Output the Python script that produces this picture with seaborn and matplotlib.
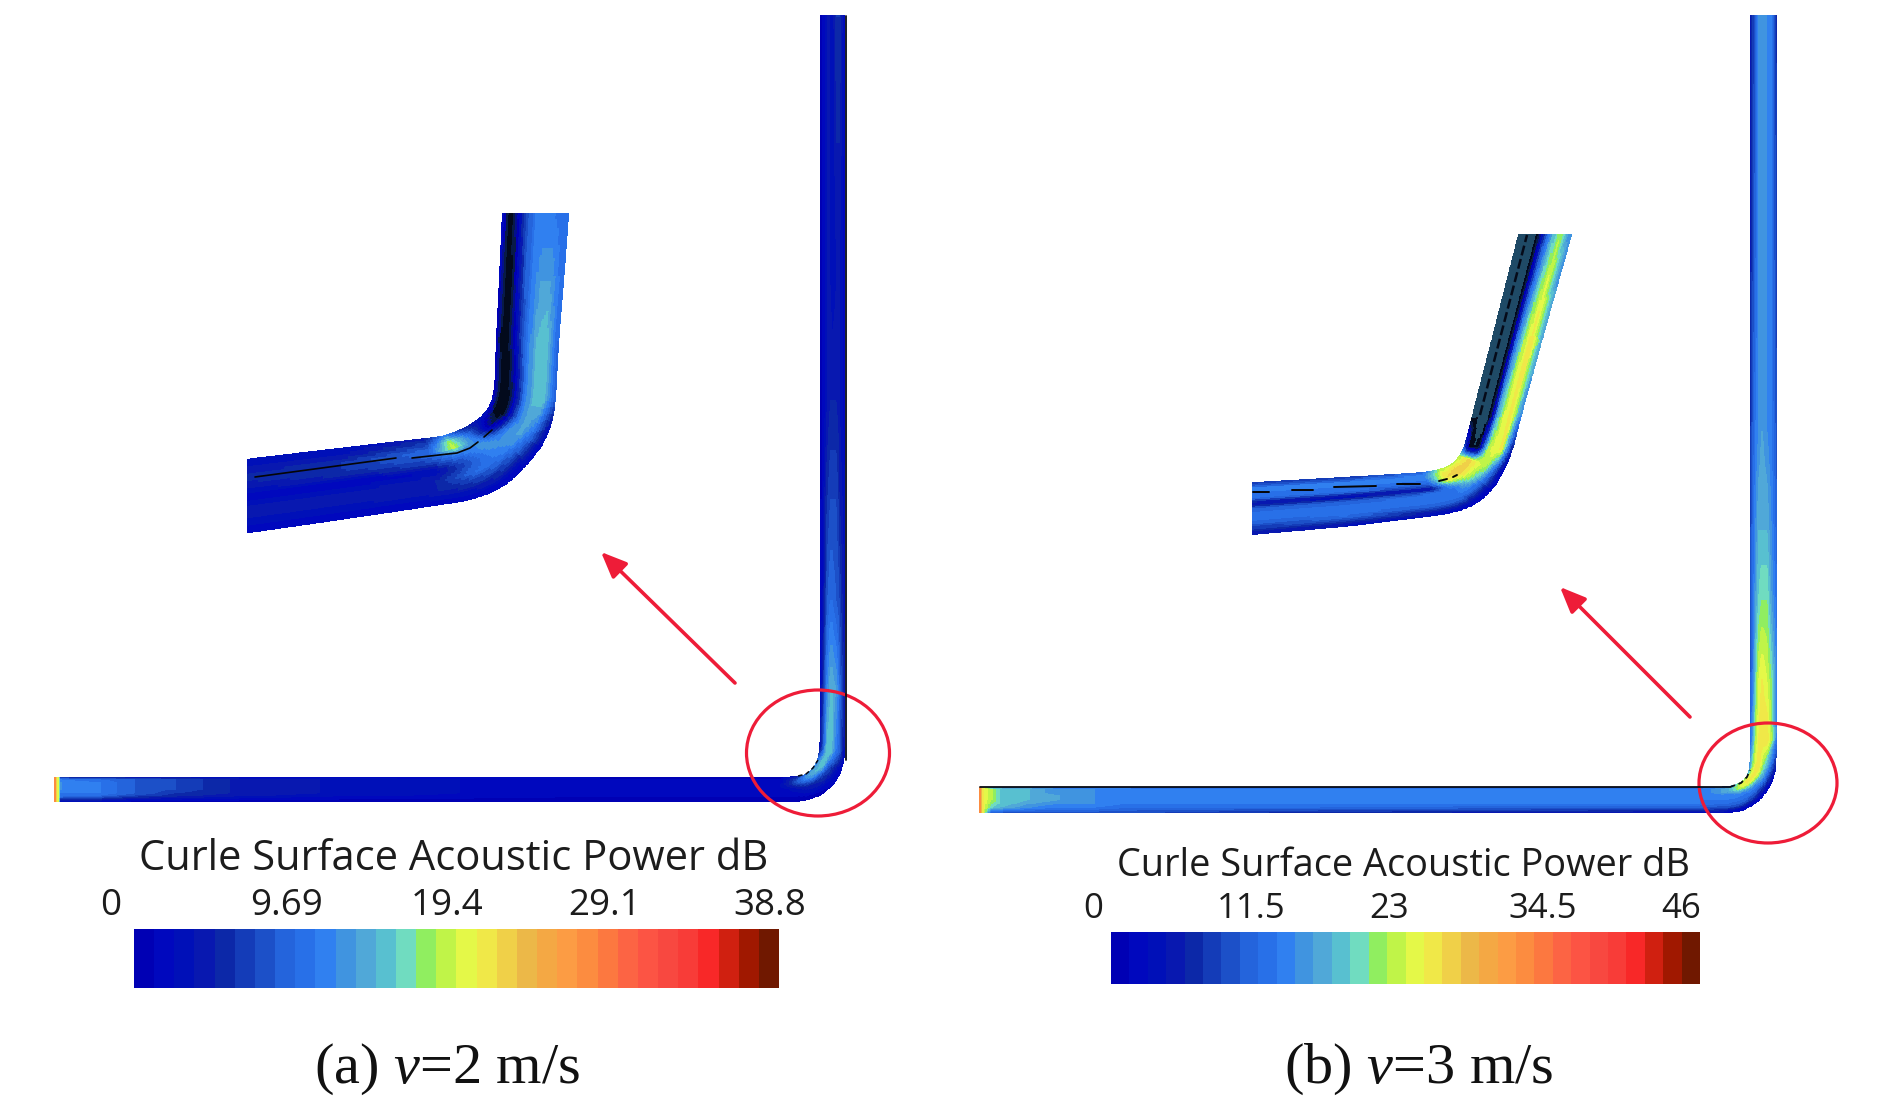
import numpy as np
import matplotlib
matplotlib.use("Agg")
import matplotlib.pyplot as plt
from matplotlib.colors import ListedColormap
from matplotlib.patches import Ellipse
import seaborn as sns

# contour level colours, as in the colour bars
level_colors = ["#0000b4", "#0008be", "#0010b8", "#0818b0", "#0c28a8", "#143cb8", "#1c50c8", "#2464dc",
                "#2870e8", "#3080f0", "#4094e0", "#50a8d8", "#58c0d0", "#70dcc0", "#90ee60", "#c0f448",
                "#e4f848", "#f0e848", "#f0d048", "#ecb848", "#f4a844", "#fc9c44", "#fc8c40", "#fc7840",
                "#fc6444", "#fc5444", "#f84840", "#f83c38", "#f82828", "#d02010", "#a01800", "#701800"]
# the dark streaks in the zoomed pipes: slate, black, navy, dark blue
dark_colors = ["#1f4a66", "#030a1c", "#081a48", "#04108a"]

bar_a_ticks = ["0", "9.69", "19.4", "29.1", "38.8"]
bar_b_ticks = ["0", "11.5", "23", "34.5", "46"]

# share of the wall width, inner wall -> outer wall
across = [0, 0.1, 0.2, 0.3, 0.4, 0.5, 0.65, 0.8, 1]

# main pipe a: inner wall x, y, outer wall x, y, level across the wall
main_a_in_x = [55, 57, 59, 61, 100, 135, 175, 230, 320, 600, 780, 797, 806, 813, 818, 820, 820, 820, 820, 820, 820, 820]
main_a_in_y = [777, 777, 777, 777, 777, 777, 777, 777, 777, 777, 777, 777, 775, 769, 760, 748, 690, 600, 500, 400, 270, 16]
main_a_out_x = [55, 57, 59, 61, 100, 135, 175, 230, 320, 600, 780, 797, 815, 830, 841, 845, 845, 845, 845, 845, 845, 845]
main_a_out_y = [802, 802, 802, 802, 802, 802, 802, 802, 802, 802, 802, 802, 798, 789, 773, 755, 690, 600, 500, 400, 270, 16]
main_a_levels = [
    [22, 22, 22, 22, 22, 22, 22, 22, 22],
    [17, 17, 17, 17, 17, 17, 17, 17, 17],
    [15, 15, 15, 15, 15, 15, 15, 15, 15],
    [3, 9, 10, 10, 10, 10, 9, 8, 1],
    [3, 8, 9, 9, 9, 9, 9, 7, 1],
    [2, 7, 7, 7, 7, 7, 7, 5, 0],
    [2, 6, 6, 6, 6, 6, 5, 4, 0],
    [1, 4, 4, 4, 4, 4, 4, 3, 0],
    [1, 3, 3, 3, 3, 3, 3, 2, 0],
    [1, 1, 1, 1, 1, 1, 1, 1, 0],
    [0, 1, 1, 2, 2, 1, 1, 1, 0],
    [4, 6, 7, 6, 4, 3, 2, 1, 0],
    [9, 11, 10, 8, 6, 4, 3, 2, 0],
    [11, 12, 12, 10, 7, 5, 4, 2, 1],
    [8, 11, 13, 13, 10, 7, 5, 3, 1],
    [3, 6, 10, 13, 13, 12, 9, 7, 2],
    [1, 4, 8, 10, 12, 12, 11, 8, 3],
    [1, 2, 5, 7, 8, 8, 7, 6, 2],
    [1, 1, 4, 5, 6, 6, 6, 4, 2],
    [0, 1, 2, 3, 4, 4, 4, 3, 1],
    [0, 1, 2, 3, 3, 2, 3, 3, 1],
    [0, 1, 2, 3, 3, 2, 5, 5, 1],
]

# zoomed pipe a
zoom_a_in_x = [248, 340, 427, 445, 462, 478, 490, 495, 497, 500, 503]
zoom_a_in_y = [460, 449, 439, 437, 430, 422, 410, 397, 340, 280, 214]
zoom_a_out_x = [248, 345, 440, 490, 523, 543, 552, 555, 558, 563, 568]
zoom_a_out_y = [532, 518, 504, 496, 470, 443, 427, 400, 340, 280, 214]
zoom_a_levels = [
    [2, 3, 4, 4, 3, 1, 3, 3, 1],
    [2, 3, 5, 5, 4, 1, 3, 3, 1],
    [4, 6, 8, 7, 5, 2, 4, 4, 1],
    [10, 15, 16, 10, 7, 6, 8, 5, 1],
    [5, 8, 9, 10, 11, 10, 9, 6, 1],
    [3, 1, -1, 3, 8, 11, 11, 8, 2],
    [2, -2, -3, -1, 5, 9, 12, 10, 3],
    [1, -3, -3, -1, 4, 9, 12, 13, 7],
    [0, -3, -2, 1, 6, 9, 12, 13, 8],
    [1, -3, -2, 3, 7, 9, 11, 11, 8],
    [2, -3, -1, 4, 7, 9, 9, 9, 8],
]
zoom_a_dash1_x = [255, 396]
zoom_a_dash1_y = [477, 458]
zoom_a_dash2_x = [412, 457, 470, 478]
zoom_a_dash2_y = [458, 453, 448, 442]
zoom_a_dash3_x = [484, 492]
zoom_a_dash3_y = [437, 430]

# main pipe b
main_b_in_x = [980, 983, 992, 1000, 1030, 1060, 1095, 1130, 1300, 1700, 1730, 1741, 1747, 1750, 1750, 1750, 1750, 1750, 1750, 1750, 1750]
main_b_in_y = [787, 787, 787, 787, 787, 787, 787, 787, 787, 787, 787, 783, 777, 768, 740, 680, 600, 530, 430, 300, 16]
main_b_out_x = [980, 983, 992, 1000, 1030, 1060, 1095, 1130, 1300, 1700, 1732, 1750, 1765, 1775, 1777, 1777, 1777, 1777, 1777, 1777, 1777]
main_b_out_y = [813, 813, 813, 813, 813, 813, 813, 813, 813, 813, 813, 808, 795, 776, 740, 680, 600, 530, 430, 300, 16]
main_b_levels = [
    [22, 22, 22, 22, 22, 22, 22, 22, 22],
    [17, 17, 17, 17, 17, 17, 17, 17, 17],
    [9, 15, 15, 15, 15, 15, 14, 13, 6],
    [10, 13, 13, 13, 13, 13, 13, 12, 6],
    [9, 12, 12, 12, 12, 12, 11, 10, 6],
    [9, 10, 10, 11, 11, 11, 10, 9, 6],
    [9, 10, 10, 10, 10, 10, 10, 9, 6],
    [9, 9, 9, 9, 9, 9, 9, 8, 6],
    [8, 9, 9, 9, 9, 9, 9, 8, 4],
    [8, 9, 9, 9, 9, 9, 9, 7, 2],
    [10, 12, 12, 10, 9, 9, 8, 6, 1],
    [15, 17, 16, 13, 10, 9, 8, 6, 1],
    [14, 17, 18, 16, 13, 10, 8, 5, 1],
    [11, 15, 17, 18, 17, 14, 11, 7, 2],
    [7, 11, 15, 17, 18, 18, 18, 15, 9],
    [6, 9, 13, 16, 17, 17, 16, 14, 9],
    [6, 8, 11, 13, 14, 14, 14, 11, 8],
    [5, 8, 10, 12, 12, 12, 12, 10, 7],
    [4, 7, 9, 10, 11, 11, 10, 9, 6],
    [3, 6, 8, 10, 10, 10, 10, 9, 5],
    [3, 5, 7, 10, 10, 10, 10, 9, 4],
]

# zoomed pipe b
zoom_b_in_x = [1253, 1340, 1423, 1440, 1453, 1460, 1465, 1473, 1492, 1519]
zoom_b_in_y = [483, 478, 473, 470, 465, 456, 447, 415, 341, 235]
zoom_b_out_x = [1253, 1345, 1445, 1470, 1488, 1503, 1512, 1521, 1541, 1571]
zoom_b_out_y = [534, 526, 514, 507, 495, 473, 450, 415, 342, 235]
zoom_b_levels = [
    [5, 9, 9, 8, 3, 7, 9, 7, 3],
    [5, 9, 9, 8, 2, 7, 9, 8, 3],
    [8, 10, 9, 7, 3, 8, 9, 7, 2],
    [15, 17, 18, 17, 12, 9, 9, 7, 1],
    [16, 18, 19, 18, 16, 14, 10, 6, 1],
    [15, 17, 18, 18, 17, 16, 15, 9, 1],
    [6, -2, -3, -2, 8, 15, 17, 17, 4],
    [-4, -3, -4, -4, -1, 11, 16, 18, 10],
    [-4, -3, -4, -4, -1, 9, 15, 18, 12],
    [-4, -3, -4, -4, -1, 6, 12, 15, 10],
]
zoom_b_dashes_x = [[1253, 1269], [1292, 1313], [1334, 1376], [1397, 1420], [1439, 1447], [1453, 1457]]
zoom_b_dashes_y = [[492, 492], [490, 490], [487, 486], [484, 484], [481, 479], [477, 475]]
zoom_b_streak_x = [1480, 1527]
zoom_b_streak_y = [415, 235]


def smooth_wall(a, n):
    # rounds the corners between the wall stations, the two ends stay where they are
    pad = np.r_[2 * a[0] - a[n:0:-1], a, 2 * a[-1] - a[-2:-n - 2:-1]]
    return np.convolve(pad, np.ones(n) / n, mode="same")[n:-n]


def draw_pipe(ax, in_x, in_y, out_x, out_y, levels, n=13):
    # walls and levels resampled along the pipe, about one row per 1.5 pixel
    levels = np.array(levels, dtype=float)
    mid_x = (np.array(in_x) + np.array(out_x)) / 2
    mid_y = (np.array(in_y) + np.array(out_y)) / 2
    s = np.r_[0, np.cumsum(np.hypot(np.diff(mid_x), np.diff(mid_y)))]
    rows = np.linspace(0, s[-1], int(s[-1] / 1.5) + 2)
    cols = np.linspace(0, 1, 30)
    x0 = smooth_wall(np.interp(rows, s, in_x), n)
    y0 = smooth_wall(np.interp(rows, s, in_y), n)
    x1 = smooth_wall(np.interp(rows, s, out_x), n)
    y1 = smooth_wall(np.interp(rows, s, out_y), n)
    X = x0[:, None] + (x1 - x0)[:, None] * cols
    Y = y0[:, None] + (y1 - y0)[:, None] * cols
    along = np.column_stack([np.interp(rows, s, levels[:, i]) for i in range(levels.shape[1])])
    C = np.vstack([np.interp(cols, across, row) for row in along])
    ax.pcolormesh(X, Y, C, cmap=pipe_cmap, vmin=-4, vmax=32, shading="nearest", antialiased=False, rasterized=True)


sns.set_theme(style="white")
plt.rcParams["font.family"] = ["Open Sans", "DejaVu Sans"]
plt.rcParams["mathtext.fontset"] = "custom"
plt.rcParams["mathtext.rm"] = "Liberation Serif"
plt.rcParams["mathtext.it"] = "Liberation Serif:italic"

W, H = 1890, 1110
bar_cmap = ListedColormap(level_colors)
pipe_cmap = ListedColormap(dark_colors + level_colors)

fig = plt.figure(figsize=(W / 100, H / 100), dpi=100, facecolor="white")
ax = fig.add_axes([0, 0, 1, 1])
ax.set_xlim(0, W)
ax.set_ylim(H, 0)
ax.axis("off")

draw_pipe(ax, main_a_in_x, main_a_in_y, main_a_out_x, main_a_out_y, main_a_levels)
draw_pipe(ax, zoom_a_in_x, zoom_a_in_y, zoom_a_out_x, zoom_a_out_y, zoom_a_levels, n=29)
draw_pipe(ax, main_b_in_x, main_b_in_y, main_b_out_x, main_b_out_y, main_b_levels)
draw_pipe(ax, zoom_b_in_x, zoom_b_in_y, zoom_b_out_x, zoom_b_out_y, zoom_b_levels, n=17)

# black wall lines and dashes left by the solver
ax.plot([846, 846], [16, 760], color="#060a14", lw=1.3)
ax.plot([980, 1730], [787, 787], color="#060a14", lw=1.3)
ax.plot([798, 806, 813, 818], [776, 774, 768, 760], color="#060a14", lw=1.1, ls=(0, (3, 2)))
ax.plot([1730, 1741, 1747, 1750], [787, 783, 777, 770], color="#060a14", lw=1.3, ls=(0, (3, 2)))
for xs, ys in [(zoom_a_dash1_x, zoom_a_dash1_y), (zoom_a_dash2_x, zoom_a_dash2_y), (zoom_a_dash3_x, zoom_a_dash3_y)]:
    ax.plot(xs, ys, color="#050505", lw=1.2)
for xs, ys in zip(zoom_b_dashes_x, zoom_b_dashes_y):
    ax.plot(xs, ys, color="#050505", lw=1.4)
ax.plot(zoom_b_streak_x, zoom_b_streak_y, color="#050a18", lw=1.8, ls=(0, (4, 1.5)))

# red circles and arrows
red = "#ee1c38"
ax.add_patch(Ellipse((818, 753), 143, 126, fill=False, ec=red, lw=2.3))
ax.add_patch(Ellipse((1768, 783), 138, 120, fill=False, ec=red, lw=2.3))
for tail, head in [((735, 683), (601, 552)), ((1690, 717), (1560, 587))]:
    ax.annotate("", xy=head, xytext=tail,
                arrowprops=dict(arrowstyle="-|>,head_length=1.3,head_width=0.55", color=red, lw=2.6,
                                shrinkA=0, shrinkB=0))

# colour bars
for left, top, right, bottom in [(134, 929, 779, 988), (1111, 932, 1700, 984)]:
    bar_ax = fig.add_axes([left / W, 1 - bottom / H, (right - left) / W, (bottom - top) / H])
    sns.heatmap(np.arange(32).reshape(1, -1), ax=bar_ax, cmap=bar_cmap, vmin=0, vmax=32, cbar=False,
                xticklabels=False, yticklabels=False)

text_color = "#1c1c1c"
ax.text(139, 859, "Curle Surface Acoustic Power dB", fontsize=30, color=text_color, ha="left", va="center")
ax.text(1117, 866, "Curle Surface Acoustic Power dB", fontsize=27.3, color=text_color, ha="left", va="center")
for label, x in zip(bar_a_ticks, [111, 287, 447, 605, 770]):
    ax.text(x, 906, label, fontsize=26.5, color=text_color, ha="center", va="center")
for label, x in zip(bar_b_ticks, [1093, 1251, 1389, 1543, 1681]):
    ax.text(x, 909, label, fontsize=25, color=text_color, ha="center", va="center")

ax.text(447, 1069, r"(a) $\mathit{v}$=2 m/s", family="Liberation Serif", fontsize=42, color="#111111",
        ha="center", va="center")
ax.text(1419, 1069, r"(b) $\mathit{v}$=3 m/s", family="Liberation Serif", fontsize=42, color="#111111",
        ha="center", va="center")

plt.savefig("out.png", dpi=100, facecolor="white")
